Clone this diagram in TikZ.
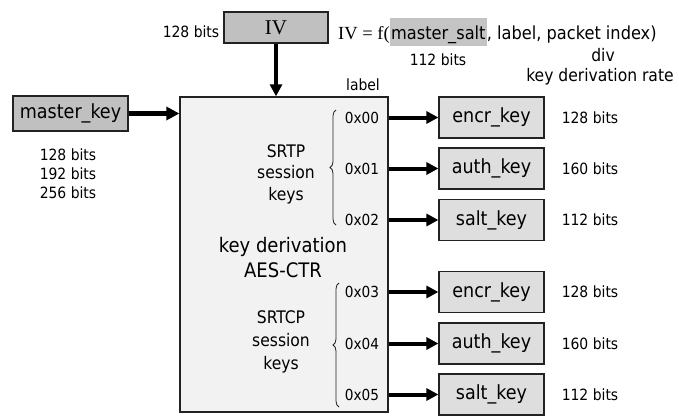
\documentclass[tikz,border=0pt]{standalone}
\usepackage{fontspec}
\setmainfont{DejaVu Sans Condensed}
\newfontfamily\ivserif{Liberation Serif}
\usetikzlibrary{arrows.meta,decorations.pathreplacing}
\definecolor{boxdark}{HTML}{C0C0C0}
\definecolor{boxlight}{HTML}{DEDEDE}
\definecolor{mainfill}{HTML}{F2F2F2}
\definecolor{hl}{HTML}{C4C4C4}
\definecolor{edge}{HTML}{222222}
\newcommand\fsz[2]{\fontsize{#1}{#2}\selectfont}
\begin{document}
\begin{tikzpicture}[x=1pt,y=-1pt,
  darkbox/.style={draw=edge, line width=1.2pt, fill=boxdark, inner sep=0pt, font=\fsz{19.5}{23}},
  keybox/.style={draw=edge, line width=1.2pt, fill=boxlight, inner sep=0pt,
    minimum width=105pt, minimum height=41pt, font=\fsz{19.5}{23}},
  mainbox/.style={draw=edge, line width=1.3pt, fill=mainfill, inner sep=0pt},
  hexlbl/.style={inner sep=0pt, font=\fsz{15.2}{18}},
  bitslbl/.style={inner sep=0pt, font=\fsz{15.5}{19}},
  arr/.style={line width=4pt, -{Triangle[length=12pt,width=12pt]}},
  bracelbl/.style={draw=edge, line width=0.8pt, decorate, decoration={brace, amplitude=6pt}}
]
\useasboundingbox (0,0) rectangle (679,415);

% boxes
\node[darkbox, minimum width=104pt, minimum height=31pt, font=\ivserif\fsz{21}{24}] (iv) at (276,27.5) {IV};
\node[darkbox, minimum width=115pt, minimum height=35pt] (mk) at (70.5,113.5) {master\_key};
\node[mainbox, minimum width=208pt, minimum height=315pt] (main) at (284,254.5) {};

\node[keybox] (k1) at (491.5,117.5) {encr\_key};
\node[keybox] (k2) at (491.5,168.5) {auth\_key};
\node[keybox] (k3) at (491.5,220) {salt\_key};
\node[keybox] (k4) at (491.5,292) {encr\_key};
\node[keybox] (k5) at (491.5,343.5) {auth\_key};
\node[keybox] (k6) at (491.5,394.5) {salt\_key};

% inputs
\draw[arr, line width=4.5pt, -{Triangle[length=13pt,width=13pt]}] (mk.east) -- (mk.east -| main.west);
\draw[arr] (iv.south) -- (iv.south |- main.north);

% hex labels and outputs
\node[hexlbl] (h1) at (362,117.5) {0x00};
\node[hexlbl] (h2) at (362,168.5) {0x01};
\node[hexlbl] (h3) at (362,220) {0x02};
\node[hexlbl] (h4) at (362,292) {0x03};
\node[hexlbl] (h5) at (362,343.5) {0x04};
\node[hexlbl] (h6) at (362,394.5) {0x05};
\foreach \i in {1,...,6} {
  \draw[arr] (h\i -| main.east) -- (k\i.west);
}

% bit sizes
\node[bitslbl] (b1) at (590,117.5) {128 bits};
\node[bitslbl] (b2) at (590,168.5) {160 bits};
\node[bitslbl] (b3) at (590,220) {112 bits};
\node[bitslbl] (b4) at (590,292) {128 bits};
\node[bitslbl] (b5) at (590,343.5) {160 bits};
\node[bitslbl] (b6) at (590,394.5) {112 bits};

% braces
\coordinate (br1a) at (336,225);
\coordinate (br1b) at (336,110);
\coordinate (br2a) at (339,407);
\coordinate (br2b) at (339,283);
\draw[bracelbl] (br1a) -- (br1b);
\draw[bracelbl] (br2a) -- (br2b);

% texts inside main box
\node[inner sep=0pt, align=center, font=\fsz{17.3}{21.5}] (srtp) at (286,174) {SRTP\\session\\keys};
\node[inner sep=0pt, align=center, font=\fsz{20}{25}] (kd) at (283,258) {key derivation\\AES-CTR};
\node[inner sep=0pt, align=center, font=\fsz{17.3}{23}] (srtcp) at (281,342) {SRTCP\\session\\keys};

% top texts
\node[bitslbl] (ivbits) at (191,32) {128 bits};
\node[anchor=base west, inner sep=0pt, font=\ivserif\fsz{18.5}{22}] (ivf) at (338,39) {IV = f(};
\node[anchor=base west, inner xsep=1pt, inner ysep=0pt, text height=21pt, text depth=7pt,
  fill=hl, font=\fsz{18}{22}] (ms) at (ivf.base east) {master\_salt};
\node[anchor=base west, inner sep=0pt, font=\fsz{18}{22}] (rest) at (ms.base east) {, label, packet index)};
\node[bitslbl] (saltbits) at (438,60) {112 bits};
\node[inner sep=0pt, font=\fsz{17.3}{21}] (div) at (603,55) {div};
\node[inner sep=0pt, font=\fsz{17.3}{21}] (kdr) at (600,77) {key derivation rate};
\node[bitslbl] (lbl) at (363,85) {label};

% master key sizes
\node[inner sep=0pt, align=center, font=\fsz{15.5}{19}] (mkb) at (68,174) {128 bits\\192 bits\\256 bits};
\end{tikzpicture}
\end{document}
